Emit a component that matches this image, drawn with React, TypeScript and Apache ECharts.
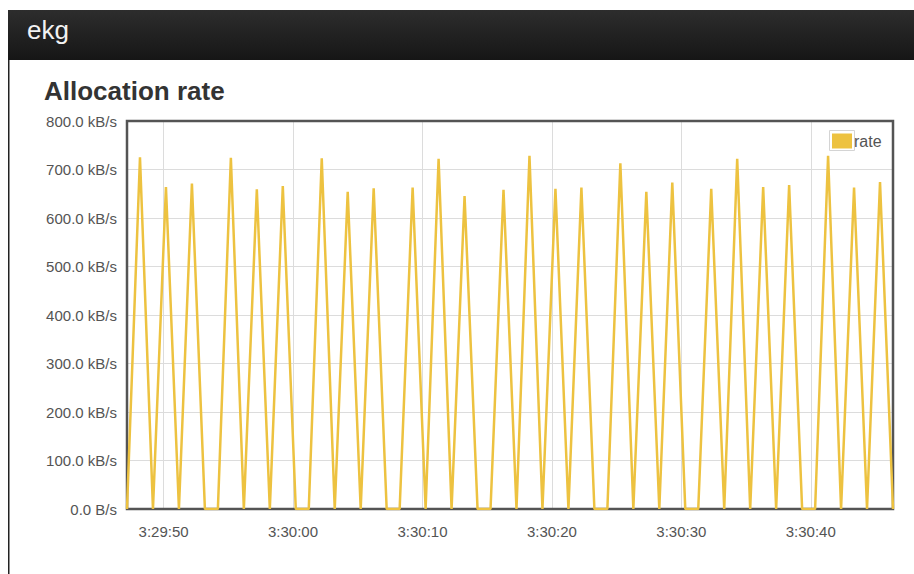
import React, { useEffect, useRef } from "react";
import * as echarts from "echarts";

// Seconds after 3:29:00 of the first sample, and sampling step (s)
const startSec = 47.175;
const stepSec = 1.003;

// Allocation rate samples (kB/s), one per sample
const rateValues = [
  0, 725, 0, 664, 0, 671, 0, 0, 724, 0,
  659, 0, 666, 0, 0, 723, 0, 654, 0, 661,
  0, 0, 663, 0, 722, 0, 645, 0, 0, 658,
  0, 728, 0, 660, 0, 663, 0, 0, 713, 0,
  654, 0, 673, 0, 0, 660, 0, 722, 0, 664,
  0, 668, 0, 0, 728, 0, 663, 0, 674, 0,
];

const seriesName = "rate";
const headerText = "ekg";
const titleText = "Allocation rate";

function fmtTime(v: number): string {
  const total = 3 * 3600 + 29 * 60 + Math.round(v);
  const h = Math.floor(total / 3600);
  const m = Math.floor((total % 3600) / 60);
  const s = total % 60;
  return `${h}:${String(m).padStart(2, "0")}:${String(s).padStart(2, "0")}`;
}

export default function App() {
  const ref = useRef<HTMLDivElement>(null);
  useEffect(() => {
    if (!ref.current) return;
    const chart = echarts.init(ref.current, null, { renderer: "svg" });
    const data = rateValues.map((v, i) => [startSec + i * stepSec, v]);
    const xMax = startSec + (rateValues.length - 1) * stepSec;
    chart.setOption({
      animation: false,
      backgroundColor: "#ffffff",
      textStyle: { fontFamily: "Liberation Sans, Arial, sans-serif" },
      graphic: [
        {
          type: "rect",
          shape: { x: 8, y: 10, width: 906, height: 50 },
          style: {
            fill: new echarts.graphic.LinearGradient(0, 0, 0, 1, [
              { offset: 0, color: "#2d2d2d" },
              { offset: 1, color: "#161616" },
            ]),
          },
          silent: true,
        },
        {
          type: "rect",
          shape: { x: 8, y: 60, width: 1.5, height: 514 },
          style: { fill: "#222" },
          silent: true,
        },
        {
          type: "text",
          x: 27,
          y: 29.5,
          style: {
            text: headerText,
            fill: "#f2f2f2",
            fontSize: 26,
            fontFamily: "Liberation Sans, Arial, sans-serif",
            verticalAlign: "middle",
          },
          silent: true,
        },
        {
          type: "text",
          x: 44,
          y: 91,
          style: {
            text: titleText,
            fill: "#333333",
            fontSize: 26,
            fontWeight: "bold",
            fontFamily: "Liberation Sans, Arial, sans-serif",
            verticalAlign: "middle",
          },
          silent: true,
        },
        {
          type: "rect",
          z: 1,
          shape: { x: 127, y: 121, width: 766, height: 388 },
          style: { fill: "none", stroke: "#545454", lineWidth: 2.5 },
          silent: true,
        },
        {
          type: "rect",
          z: 1,
          shape: { x: 829.5, y: 130.5, width: 25, height: 20 },
          style: { fill: "none", stroke: "#d4d4d4", lineWidth: 1 },
          silent: true,
        },
      ],
      legend: {
        data: [seriesName],
        left: 832,
        top: 133,
        padding: 0,
        icon: "rect",
        itemWidth: 20,
        itemHeight: 15,
        textStyle: { fontSize: 16, color: "#545454", padding: [0, 0, 0, -3] },
      },
      grid: {
        left: 127,
        top: 121,
        width: 766,
        height: 388,
        show: false,
      },
      xAxis: {
        type: "value",
        min: startSec,
        max: xMax,
        splitNumber: 5,
        axisLine: { show: false },
        axisTick: { show: false },
        axisLabel: {
          formatter: (v: number) => fmtTime(v),
          showMinLabel: false,
          showMaxLabel: false,
          fontSize: 15,
          color: "#545454",
          margin: 15,
        },
        splitLine: { show: true, lineStyle: { color: "#dcdcdc", width: 1 } },
      },
      yAxis: {
        type: "value",
        min: 0,
        max: 800,
        interval: 100,
        axisLine: { show: false },
        axisTick: { show: false },
        axisLabel: {
          formatter: (v: number) => (v === 0 ? "0.0 B/s" : `${v.toFixed(1)} kB/s`),
          fontSize: 15,
          color: "#545454",
          margin: 10,
        },
        splitLine: { show: true, lineStyle: { color: "#dcdcdc", width: 1 } },
      },
      series: [
        {
          name: seriesName,
          type: "line",
          z: 5,
          data,
          showSymbol: false,
          symbol: "none",
          color: "#edc240",
          lineStyle: { color: "#edc240", width: 2.5 },
          itemStyle: { color: "#edc240" },
        },
      ],
    });
    return () => chart.dispose();
  }, []);
  return (
    <div
      ref={ref}
      style={{ position: "fixed", left: 0, top: 0, width: 914, height: 574 }}
    />
  );
}
